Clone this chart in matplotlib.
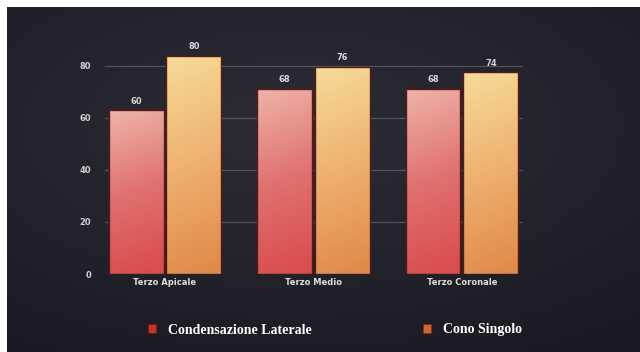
import numpy as np
import matplotlib
matplotlib.use("Agg")
import matplotlib.pyplot as plt
from matplotlib.patches import Patch
from matplotlib.colors import LinearSegmentedColormap

# ---- data ----
categories = ["Terzo Apicale", "Terzo Medio", "Terzo Coronale"]
series_names = ["Condensazione Laterale", "Cono Singolo"]
condensazione = [60, 68, 68]
cono = [80, 76, 74]
tick_values = [0, 20, 40, 60, 80]

# ---- style ----
axis_scale = 0.955          # the original axis labels sit slightly below the bar scale
W, H = 640, 352
fig = plt.figure(figsize=(W / 100, H / 100), dpi=100, facecolor="white")

# dark background panel with soft radial glow
bg = fig.add_axes([7 / W, 0, (W - 7) / W, (H - 7) / H])
yy, xx = np.mgrid[0:1:200j, 0:1:360j]
r = np.sqrt(((xx - 0.45) / 0.9) ** 2 + ((yy - 0.35) / 0.8) ** 2)
glow = np.clip(1 - r, 0, 1)
c0 = np.array([25, 25, 33]) / 255
c1 = np.array([44, 44, 52]) / 255
img = c0[None, None, :] + (c1 - c0)[None, None, :] * glow[..., None]
bg.imshow(img, aspect="auto", extent=[0, 1, 0, 1], origin="upper")
bg.set_axis_off()

ax = fig.add_axes([105 / W, 78 / H, 418 / W, 244 / H])
ax.set_facecolor("none")
ax.set_xlim(-0.404, 2.411)
ax.set_ylim(0, 89.5)

x = np.arange(len(categories))
width = 0.37
off = 0.195

# grid lines
for tv in tick_values[1:]:
    ax.axhline(tv * axis_scale, color="#8a8a92", lw=0.9, alpha=0.45, zorder=1)

grad_specs = [
    ("#eeb4a8", "#e07070", "#d94a4c"),
    ("#f6dc98", "#eeb070", "#e08848"),
]

def gradient_fill(bar, top, mid, bottom):
    bx, by = bar.get_x(), bar.get_y()
    bw, bh = bar.get_width(), bar.get_height()
    cmap = LinearSegmentedColormap.from_list("g", [bottom, mid, top])
    v = np.linspace(0, 1, 128)[:, None]
    h = np.linspace(0, 1, 32)[None, :]
    grad = v * 0.9 + 0.1 * (1 - h)
    im = ax.imshow(grad, cmap=cmap, vmin=0, vmax=1, origin="lower", aspect="auto",
                   extent=[bx, bx + bw, by, by + bh], zorder=2, interpolation="bilinear")
    im.set_clip_path(bar)

for vals, dx, spec in [(condensazione, -off, grad_specs[0]), (cono, off, grad_specs[1])]:
    bars = ax.bar(x + dx, vals, width=width, color="none", edgecolor="#5a1a14",
                  linewidth=1.0, zorder=3)
    for b, v in zip(bars, vals):
        gradient_fill(b, *spec)
        ax.annotate(str(v), (b.get_x() + b.get_width() / 2, v), xytext=(0, 6.5),
                    textcoords="offset points", ha="center", va="center",
                    fontsize=6, fontweight="bold", color="#d6d6d6", zorder=4)

ax.set_xticks(x)
ax.set_xticklabels(categories, fontsize=6, fontweight="bold", color="#dcdcdc")
ax.set_yticks([t * axis_scale for t in tick_values])
ax.set_yticklabels([str(t) for t in tick_values], fontsize=6, fontweight="bold", color="#d0d0d0")
ax.tick_params(axis="x", length=0, pad=3)
ax.tick_params(axis="y", length=0, pad=10)
for s in ax.spines.values():
    s.set_visible(False)

handles = [Patch(facecolor="#c8302a", edgecolor="#7a1810", lw=0.5),
           Patch(facecolor="#d8642c", edgecolor="#7a3010", lw=0.5)]
leg = fig.legend(handles, series_names, loc="center", bbox_to_anchor=(0.523, 22 / H),
                 ncol=2, frameon=False, handlelength=0.6, handleheight=0.6,
                 handletextpad=0.85, columnspacing=8.0,
                 prop={"family": "Liberation Serif", "weight": "bold", "size": 10})
for t in leg.get_texts():
    t.set_color("white")

fig.savefig("out.png", dpi=100, facecolor=fig.get_facecolor())
